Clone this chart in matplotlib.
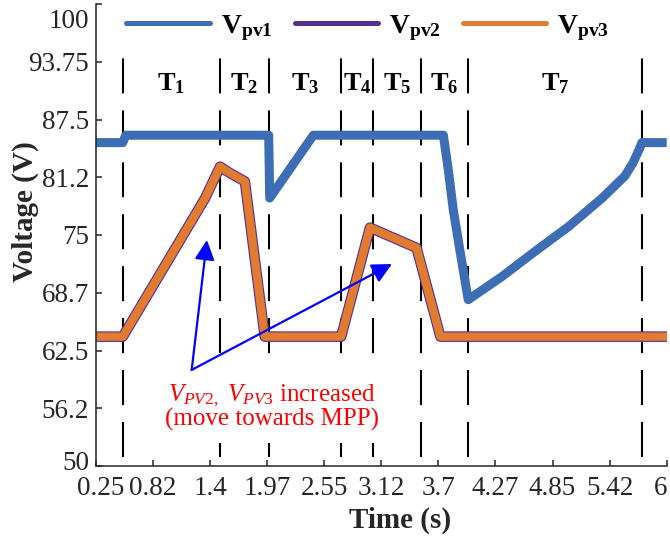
import matplotlib
matplotlib.use("Agg")
import matplotlib.pyplot as plt
from matplotlib.lines import Line2D
from matplotlib.transforms import ScaledTranslation

plt.rcParams["font.family"] = ["Liberation Serif", "DejaVu Serif"]
plt.rcParams["mathtext.fontset"] = "custom"
plt.rcParams["mathtext.rm"] = "Liberation Serif"
plt.rcParams["mathtext.it"] = "Liberation Serif:italic"
plt.rcParams["mathtext.bf"] = "Liberation Serif:bold"
plt.rcParams["lines.scale_dashes"] = False

# PV string voltages (time in s, voltage in V)
t_pv1 = [0.25, 0.52, 0.55, 1.99, 2.00, 2.44, 3.75, 3.80, 3.85, 3.92, 4.00,
         4.34, 4.67, 5.01, 5.35, 5.58, 5.66, 5.72, 5.75, 6.00]
v_pv1 = [85.0, 85.0, 85.8, 85.8, 79.0, 85.8, 85.8, 82.0, 77.7, 73.1, 68.0,
         70.5, 73.2, 75.9, 79.0, 81.4, 82.8, 84.2, 85.0, 85.0]

t_pv2 = [0.25, 0.52, 1.35, 1.50, 1.60, 1.75, 1.95, 2.72, 3.01, 3.48, 3.72, 6.00]
v_pv2 = [64.0, 64.0, 79.0, 82.4, 81.7, 80.8, 64.0, 64.0, 75.8, 73.6, 64.0, 64.0]

t_pv3 = [0.25, 0.52, 1.35, 1.50, 1.60, 1.75, 1.95, 2.72, 3.01, 3.48, 3.72, 6.00]
v_pv3 = [64.0, 64.0, 79.0, 82.4, 81.7, 80.8, 64.0, 64.0, 75.8, 73.6, 64.0, 64.0]

# Interval boundaries and names
bounds = [0.52, 1.50, 1.99, 2.72, 3.04, 3.52, 4.00, 5.75]
interval_names = [r"$\mathbf{T_{1}}$", r"$\mathbf{T_{2}}$", r"$\mathbf{T_{3}}$",
                  r"$\mathbf{T_{4}}$", r"$\mathbf{T_{5}}$", r"$\mathbf{T_{6}}$",
                  r"$\mathbf{T_{7}}$"]

xticks = [0.25, 0.825, 1.4, 1.975, 2.55, 3.125, 3.7, 4.275, 4.85, 5.425, 6.0]
xtick_labels = ["0.25", "0.82", "1.4", "1.97", "2.55", "3.12", "3.7", "4.27",
                "4.85", "5.42", "6"]
yticks = [50, 56.25, 62.5, 68.75, 75, 81.25, 87.5, 93.75, 100]
ytick_labels = ["50", "56.2", "62.5", "68.7", "75", "81.2", "87.5", "93.75", "100"]

c_pv1 = "#3D6DB5"
c_pv2 = "#56308F"
c_pv3 = "#E07B30"
axis_col = "#262626"

fig = plt.figure(figsize=(6.7, 5.46), dpi=100)
ax = fig.add_axes([96 / 670, 1 - 466 / 546, 570.7 / 670, 462 / 546])

# interval separators
ax.vlines(bounds, 50.97, 94.16, colors="black", lw=1.5,
          linestyles=[(0, (25.2, 12.2))], zorder=1)

ax.plot(t_pv1, v_pv1, color=c_pv1, lw=6.5, solid_joinstyle="round",
        solid_capstyle="butt", zorder=2)
ax.plot(t_pv2, v_pv2, color=c_pv2, lw=7.6, solid_joinstyle="round", zorder=2)
ax.plot(t_pv3, v_pv3, color=c_pv3, lw=6.0, solid_joinstyle="round", zorder=2)

# interval labels, centred in each interval
for a, b, name in zip(bounds[:-1], bounds[1:], interval_names):
    ax.text((a + b) / 2, 91.4, name, ha="center", va="center", fontsize=19,
            color="black", zorder=3)

# annotation
ax.text(2.02, 56.45,
        r"$\mathit{V_{PV2,}}$ $\mathit{V_{PV3}}$ increased" + "\n(move towards MPP)",
        ha="center", va="center", fontsize=18, color="red", linespacing=0.95,
        bbox=dict(fc="white", ec="none", pad=9), zorder=3)
tail = (1.214, 60.4)
for head in [(1.368, 74.46), (3.232, 71.86)]:
    ax.annotate("", xy=head, xytext=tail,
                arrowprops=dict(arrowstyle="-|>,head_length=1.2,head_width=0.6",
                                color="blue", lw=1.6, shrinkA=0, shrinkB=0,
                                mutation_scale=10),
                zorder=4)

ax.set_xlim(0.25, 6.0)
ax.set_ylim(50, 100)
ax.set_xticks(xticks)
ax.set_xticklabels(xtick_labels)
ax.set_yticks(yticks)
ax.set_yticklabels(ytick_labels)
ax.tick_params(direction="in", length=4, width=1.1, colors=axis_col,
               labelsize=19.5, labelcolor=axis_col)
ax.tick_params(axis="x", pad=7)
ax.tick_params(axis="y", pad=5)
for s in ["top", "right"]:
    ax.spines[s].set_visible(False)
for s in ["left", "bottom"]:
    ax.spines[s].set_color(axis_col)
    ax.spines[s].set_linewidth(1.1)

ax.set_xlabel("Time (s)", fontsize=21, fontweight="bold", color=axis_col)
ax.xaxis.set_label_coords(0.533, -0.117)
ax.xaxis.label.set_va("center")
ax.set_ylabel("Voltage (V)", fontsize=21, fontweight="bold", color=axis_col)
ax.yaxis.set_label_coords(-0.124, 0.55)
ax.yaxis.label.set_va("center")

handles = [Line2D([], [], color=c, lw=3.6, solid_capstyle="round")
           for c in (c_pv1, c_pv2, c_pv3)]
labels = [r"$\mathbf{V_{pv1}}$", r"$\mathbf{V_{pv2}}$", r"$\mathbf{V_{pv3}}$"]
fig.legend(handles, labels, loc="center", bbox_to_anchor=(0.549, 0.949),
           ncol=3, frameon=False, fontsize=20, handlelength=3.0,
           handletextpad=0.4, columnspacing=0.8)


def nudge(label, dx_px, dy_px):
    label.set_transform(label.get_transform() +
                        ScaledTranslation(dx_px / 100, dy_px / 100,
                                          fig.dpi_scale_trans))


# keep the end labels clear of the corner and the canvas edges
for tick in ax.yaxis.get_major_ticks():
    if tick.get_loc() == 100:
        nudge(tick.label1, 0, -14)
    if tick.get_loc() == 50:
        nudge(tick.label1, 0, 6)
for tick in ax.xaxis.get_major_ticks():
    if tick.get_loc() == 0.25:
        nudge(tick.label1, 5, 0)
    if tick.get_loc() == 6.0:
        tick.label1.set_horizontalalignment("right")
        nudge(tick.label1, 1, 0)

fig.savefig("out.png", dpi=100)
